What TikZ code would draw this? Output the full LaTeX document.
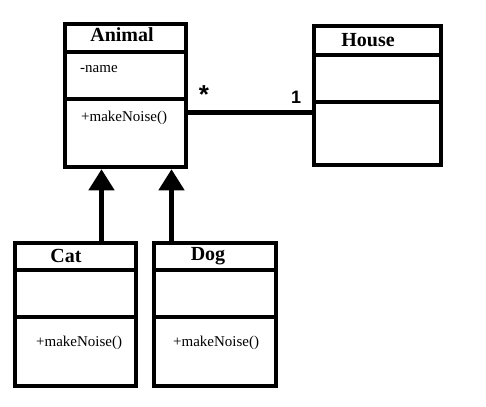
\documentclass[tikz,border=0pt]{standalone}
\usepackage{fontspec}
\setmainfont{Liberation Serif}
\newfontfamily\mulfont{Liberation Sans}
\usetikzlibrary{arrows.meta}
\tikzset{
  classbox/.style={draw=black, line width=4.5pt, rectangle, inner sep=0pt, minimum width=121pt, minimum height=143pt},
  divider/.style={draw=black, line width=4.5pt},
  titletext/.style={inner sep=0pt, anchor=base, font=\fontsize{20}{24}\selectfont\bfseries},
  membertext/.style={inner sep=0pt, anchor=base west, font=\fontsize{15}{18}\selectfont},
  multtext/.style={inner sep=0pt, anchor=base, font=\mulfont\bfseries\fontsize{18}{21}\selectfont},
  assoc/.style={draw=black, line width=4.5pt},
  inherit/.style={draw=black, line width=4.5pt, -{Triangle[width=25pt,length=21pt]}},
}
\begin{document}
\begin{tikzpicture}[x=1pt,y=1pt]
\useasboundingbox (0,0) rectangle (486,-406);
% class boxes
\node[classbox] (animal) at (125.5,-95.5) {};
\node[classbox, minimum width=127pt, minimum height=139pt] (house) at (377.5,-95.5) {};
\node[classbox, minimum height=143pt] (cat) at (75.5,-314.5) {};
\node[classbox, minimum width=122pt, minimum height=143pt] (dog) at (215,-314.5) {};
% dividers
\draw[divider] (animal.west |- 0,-52) -- (animal.east |- 0,-52);
\draw[divider] (animal.west |- 0,-99) -- (animal.east |- 0,-99);
\draw[divider] (house.west |- 0,-55) -- (house.east |- 0,-55);
\draw[divider] (house.west |- 0,-102) -- (house.east |- 0,-102);
\draw[divider] (cat.west |- 0,-270) -- (cat.east |- 0,-270);
\draw[divider] (cat.west |- 0,-317) -- (cat.east |- 0,-317);
\draw[divider] (dog.west |- 0,-270) -- (dog.east |- 0,-270);
\draw[divider] (dog.west |- 0,-317) -- (dog.east |- 0,-317);
% texts
\node[titletext] (animalT) at (122,-42) {Animal};
\node[membertext] (animalA) at (80,-73) {-name};
\node[membertext] (animalM) at (81,-122) {+makeNoise()};
\node[titletext] (houseT) at (368,-47) {House};
\node[titletext] (catT) at (66,-262) {Cat};
\node[membertext] (catM) at (36,-346) {+makeNoise()};
\node[titletext] (dogT) at (208,-260) {Dog};
\node[membertext] (dogM) at (173,-346) {+makeNoise()};
% association
\coordinate (aL) at (animal.east |- 0,-112.5);
\coordinate (aR) at (house.west |- 0,-112.5);
\draw[assoc] (aL) -- (aR);
\node[multtext, font=\mulfont\bfseries\fontsize{26}{30}\selectfont] (star) at (204,-104) {*};
\node[multtext] (one) at (296,-104) {1};
% inheritance
\coordinate (catTop) at (101.5,-243);
\coordinate (catTip) at (101.5,-169.25);
\coordinate (dogTop) at (171.5,-243);
\coordinate (dogTip) at (171.5,-169.25);
\draw[inherit] (catTop) -- (catTip);
\draw[inherit] (dogTop) -- (dogTip);
\end{tikzpicture}
\end{document}
